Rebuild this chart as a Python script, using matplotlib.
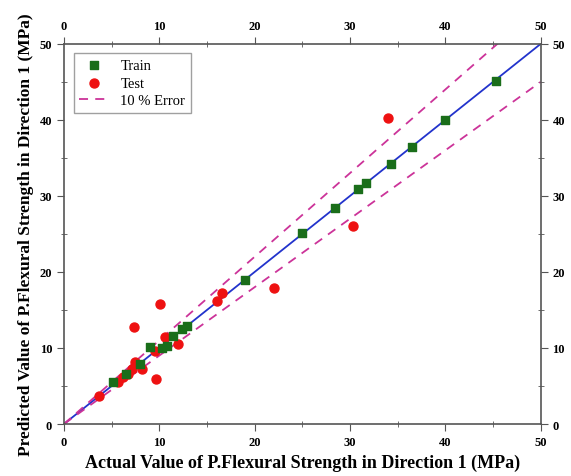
import numpy as np
import matplotlib
matplotlib.use("Agg")
from matplotlib import pyplot as plt
from matplotlib.ticker import MultipleLocator

plt.rcParams['font.family'] = ['Liberation Serif', 'DejaVu Serif']

train_actual = [45.3, 40.0, 36.5, 34.3, 31.7, 30.8, 28.4, 25.0, 19.0, 12.9, 12.4, 11.4,
                10.8, 9.0, 8.0, 6.5, 5.1, 10.3]
train_pred = [45.1, 40.0, 36.4, 34.2, 31.7, 30.9, 28.4, 25.1, 18.9, 12.9, 12.5, 11.6,
              10.3, 10.1, 7.9, 6.6, 5.5, 10.0]

test_actual = [34.0, 30.3, 22.0, 16.6, 16.1, 10.1, 7.3, 10.6, 12.0, 9.5, 8.2, 7.4,
               7.1, 6.7, 6.2, 5.7, 9.7, 3.7]
test_pred = [40.3, 26.0, 17.9, 17.2, 16.2, 15.8, 12.8, 11.4, 10.5, 9.6, 7.2, 8.1,
             7.2, 6.6, 6.2, 5.5, 5.9, 3.7]

line_x = [0, 50]

fig = plt.figure(figsize=(5.71, 4.77), dpi=100)
ax = fig.add_axes([0.112, 0.109, 0.835, 0.797])

ax.plot(line_x, line_x, color='#2233cc', lw=1.3, zorder=2)
ax.plot(line_x, [v * 1.1 for v in line_x], '--', color='#cc3399', lw=1.3, dashes=(5, 4),
        label='10 % Error', zorder=2)
ax.plot(line_x, [v * 0.9 for v in line_x], '--', color='#cc3399', lw=1.3, dashes=(5, 4),
        zorder=2)
ax.scatter(train_actual, train_pred, marker='s', s=26, color='#1a6e1a', label='Train', zorder=4)
ax.scatter(test_actual, test_pred, marker='o', s=42, color='#ee1111', label='Test', zorder=3)

ax.set_xlim(0, 50)
ax.set_ylim(0, 50)
ax.xaxis.set_major_locator(MultipleLocator(10))
ax.xaxis.set_minor_locator(MultipleLocator(5))
ax.yaxis.set_major_locator(MultipleLocator(10))
ax.yaxis.set_minor_locator(MultipleLocator(5))
ax.tick_params(which='both', top=True, right=True, labeltop=True, labelright=True,
               labelsize=9, color='#555555')
ax.tick_params(which='major', direction='out', length=5)
ax.tick_params(which='minor', direction='inout', length=4)
for s in ax.spines.values():
    s.set_color('#555555')
    s.set_linewidth(1.2)
for lab in ax.get_xticklabels() + ax.get_yticklabels():
    lab.set_fontweight('bold')

ax.set_xlabel('Actual Value of P.Flexural Strength in Direction 1 (MPa)', fontsize=13,
              fontweight='bold', labelpad=4)
ax.set_ylabel('Predicted Value of P.Flexural Strength in Direction 1 (MPa)', fontsize=12.5,
              fontweight='bold', labelpad=4)

handles, labels = ax.get_legend_handles_labels()
order = [labels.index('Train'), labels.index('Test'), labels.index('10 % Error')]
ax.legend([handles[i] for i in order], [labels[i] for i in order], loc='upper left',
          bbox_to_anchor=(0.005, 0.995), fontsize=10.5, fancybox=False, edgecolor='#888888',
          borderpad=0.4, handlelength=2.0, labelspacing=0.3)

fig.savefig('out.png', dpi=100)
